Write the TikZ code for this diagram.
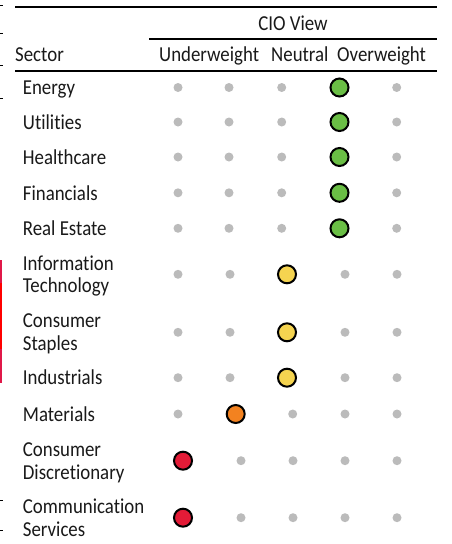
\documentclass[tikz,border=0pt]{standalone}
\usepackage{fontspec}
\setmainfont{Carlito}[FakeStretch=0.885,Ligatures=NoCommon]
\definecolor{dotgrey}{RGB}{187,187,187}
\definecolor{owgreen}{RGB}{106,190,69}
\definecolor{ntyellow}{RGB}{245,212,80}
\definecolor{uworange}{RGB}{243,130,32}
\definecolor{uwred}{RGB}{227,27,55}
\definecolor{barcrimson}{RGB}{224,24,72}
\definecolor{barred}{RGB}{255,0,0}
\definecolor{txt}{RGB}{25,25,25}
\tikzset{
  lbl/.style={anchor=base west, inner sep=0pt, text=txt, font=\fontsize{21.3}{24}\selectfont},
  hdr/.style={anchor=base west, inner sep=0pt, text=txt, font=\fontsize{21.3}{24}\selectfont},
  gdot/.style={circle, fill=dotgrey, minimum size=9pt, inner sep=0pt},
  bigdot/.style={circle, draw=black, line width=2pt, minimum size=18pt, inner sep=0pt},
  rule/.style={line width=#1, draw=black},
  tick/.style={fill=black}
}
\begin{document}
\begin{tikzpicture}[x=1pt,y=-1pt]
\useasboundingbox (0,0) rectangle (451,544);
% left edge fragments
\foreach \yy in {5,33,65,98,500,530} {\fill[tick] (0,\yy-0.5) rectangle (2.5,\yy+0.5);}
\fill[barcrimson] (0,260) rectangle (2,283.3);
\fill[barred] (0,283.3) rectangle (2,349.3);
\fill[barcrimson] (0,349.3) rectangle (2,382.7);
% rules
\coordinate (r1a) at (15,6.7); \coordinate (r1b) at (437,6.7);
\coordinate (r2a) at (149,39); \coordinate (r2b) at (437,39);
\coordinate (r3a) at (15,71); \coordinate (r3b) at (437,71);
\draw[rule=2.3pt] (r1a) -- (r1b);
\draw[rule=1.5pt] (r2a) -- (r2b);
\draw[rule=2pt] (r3a) -- (r3b);
% headers
\node[hdr, anchor=base] (cio) at (293,30) {CIO View};
\node[hdr] (sector) at (15,61.7) {Sector};
\node[hdr] (uw) at (159,61.7) {Underweight};
\node[hdr] (nt) at (271,61.7) {Neutral};
\node[hdr] (ow) at (337,61.7) {Overweight};
% labels
\node[lbl] (lEn) at (22.7,94.5) {Energy};
\node[lbl] (lUt) at (22.7,129) {Utilities};
\node[lbl] (lHc) at (22.7,164) {Healthcare};
\node[lbl] (lFi) at (22.7,200) {Financials};
\node[lbl] (lRe) at (22.7,235.3) {Real Estate};
\node[lbl] (lIt1) at (22.7,270.3) {Information};
\node[lbl] (lIt2) at (22.7,292.9) {Technology};
\node[lbl] (lCs1) at (22.7,327.8) {Consumer};
\node[lbl] (lCs2) at (22.7,350.6) {Staples};
\node[lbl] (lIn) at (22.7,384.7) {Industrials};
\node[lbl] (lMa) at (22.7,421) {Materials};
\node[lbl] (lCd1) at (22.7,456.5) {Consumer};
\node[lbl] (lCd2) at (22.7,479.2) {Discretionary};
\node[lbl] (lCm1) at (22.7,513.5) {Communication};
\node[lbl] (lCm2) at (22.7,536.2) {Services};
% overweight rows
\foreach \nm/\yy in {En/87.5,Ut/122,Hc/157,Fi/192.8,Re/228.3} {
  \node[gdot] (\nm1) at (178,\yy) {};
  \node[gdot] (\nm2) at (229,\yy) {};
  \node[gdot] (\nm3) at (281.7,\yy) {};
  \node[bigdot, fill=owgreen] (\nm4) at (339.5,\yy) {};
  \node[gdot] (\nm5) at (396.7,\yy) {};
}
% neutral rows
\foreach \nm/\yy in {It/274.3,Cs/332.3,In/377.7} {
  \node[gdot] (\nm1) at (178,\yy) {};
  \node[gdot] (\nm2) at (230,\yy) {};
  \node[bigdot, fill=ntyellow] (\nm3) at (287,\yy) {};
  \node[gdot] (\nm4) at (345,\yy) {};
  \node[gdot] (\nm5) at (397,\yy) {};
}
% materials
\node[gdot] (Ma1) at (178,414) {};
\node[bigdot, fill=uworange] (Ma2) at (235.7,414) {};
\node[gdot] (Ma3) at (292.7,414) {};
\node[gdot] (Ma4) at (345,414) {};
\node[gdot] (Ma5) at (397,414) {};
% underweight rows
\foreach \nm/\yy in {Cd/460.7,Cm/517.7} {
  \node[bigdot, fill=uwred] (\nm1) at (183,\yy) {};
  \node[gdot] (\nm2) at (241,\yy) {};
  \node[gdot] (\nm3) at (293,\yy) {};
  \node[gdot] (\nm4) at (345,\yy) {};
  \node[gdot] (\nm5) at (397,\yy) {};
}
\end{tikzpicture}
\end{document}
